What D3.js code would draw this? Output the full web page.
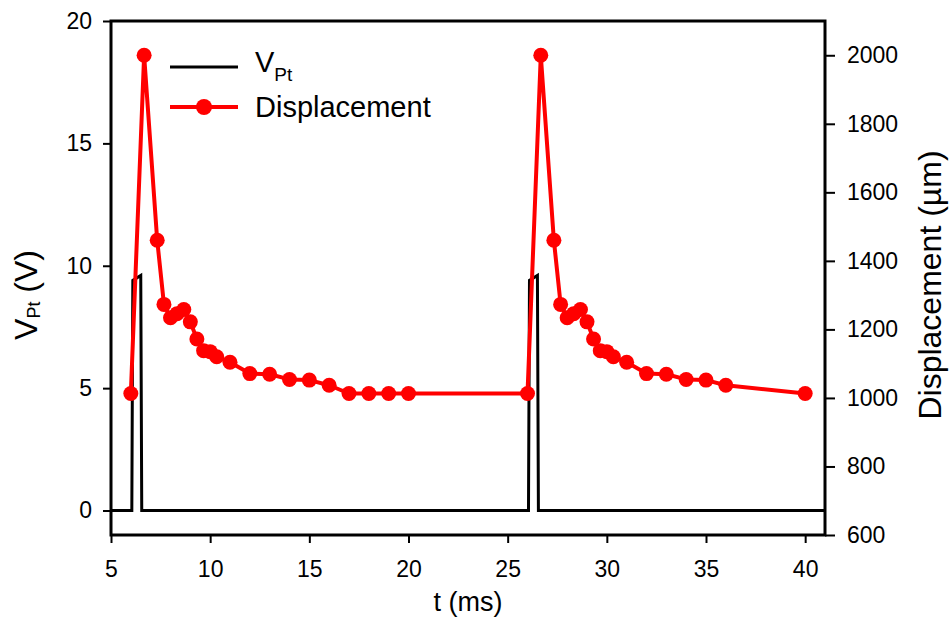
<!DOCTYPE html>
<html>
<head>
<meta charset="utf-8">
<script src="https://cdn.jsdelivr.net/npm/d3@7"></script>
<style>
  body { margin: 0; background: #fff; }
  text { font-family: "Liberation Sans", Arial, sans-serif; fill: #000; }
</style>
</head>
<body>
<div id="chart"></div>
<script>
// V_Pt pulse trace (t in ms, volts)
var vTime = [5, 6.05, 6.1, 6.5, 6.55, 26.05, 26.1, 26.5, 26.55, 41];
var vVolt = [0, 0, 9.4, 9.6, 0, 0, 9.4, 9.6, 0, 0];

// displacement samples (t in ms, um)
var dTime = [6.0, 6.67, 7.33, 7.67, 8.0, 8.33, 8.67, 9.0, 9.33, 9.67, 10.0, 10.33, 11, 12, 13, 14, 15, 16, 17, 18, 19, 20,
  26.0, 26.67, 27.33, 27.67, 28.0, 28.33, 28.67, 29.0, 29.33, 29.67, 30.0, 30.33, 31, 32, 33, 34, 35, 36, 40];
var dDisp = [1013, 2000, 1460, 1273, 1234, 1246, 1258, 1222, 1172, 1138, 1135, 1120, 1104, 1071, 1069, 1054, 1052, 1037, 1013, 1013, 1013, 1013,
  1013, 2000, 1460, 1273, 1234, 1246, 1258, 1222, 1172, 1138, 1135, 1120, 1104, 1071, 1069, 1054, 1052, 1037, 1013];

var xTicks = [5, 10, 15, 20, 25, 30, 35, 40];
var yLeftTicks = [0, 5, 10, 15, 20];
var yRightTicks = [600, 800, 1000, 1200, 1400, 1600, 1800, 2000];

var svgWidth = 951;
var svgHeight = 619;
var margin = { top: 21, right: 126, bottom: 84, left: 111 };
var width = svgWidth - margin.left - margin.right;
var height = svgHeight - margin.top - margin.bottom;

var svg = d3.select("#chart").append("svg")
  .attr("width", svgWidth)
  .attr("height", svgHeight);

var g = svg.append("g")
  .attr("transform", `translate(${margin.left}, ${margin.top})`);

var x = d3.scaleLinear().domain([5, 41]).range([0, width]);
var yLeft = d3.scaleLinear().domain([-1, 20]).range([height, 0]);
var yRight = d3.scaleLinear().domain([600, 2100]).range([height, 0]);

// axes
function styleAxis(sel) {
  sel.select(".domain").remove();
  sel.selectAll(".tick line").attr("stroke", "#000").attr("stroke-width", 2);
  sel.selectAll(".tick text").style("font-size", "23px").attr("fill", "#000");
}

g.append("g")
  .attr("transform", `translate(0, ${height})`)
  .call(d3.axisBottom(x).tickValues(xTicks).tickSize(8).tickPadding(18).tickSizeOuter(0))
  .call(styleAxis);

g.append("g")
  .call(d3.axisLeft(yLeft).tickValues(yLeftTicks).tickSize(8).tickPadding(11).tickSizeOuter(0))
  .call(styleAxis);

g.append("g")
  .attr("transform", `translate(${width}, 0)`)
  .call(d3.axisRight(yRight).tickValues(yRightTicks).tickFormat(d3.format("d"))
    .tickSize(10).tickPadding(12).tickSizeOuter(0))
  .call(styleAxis);

// V_Pt line
var vData = vTime.map(function (t, i) { return [t, vVolt[i]]; });
g.append("path")
  .datum(vData)
  .attr("fill", "none")
  .attr("stroke", "#000")
  .attr("stroke-width", 3)
  .attr("d", d3.line().x(d => x(d[0])).y(d => yLeft(d[1])));

// displacement line + markers
var dData = dTime.map(function (t, i) { return [t, dDisp[i]]; });
g.append("path")
  .datum(dData)
  .attr("fill", "none")
  .attr("stroke", "#ff0000")
  .attr("stroke-width", 4)
  .attr("stroke-linejoin", "round")
  .attr("d", d3.line().x(d => x(d[0])).y(d => yRight(d[1])));

g.selectAll("circle.pt")
  .data(dData)
  .enter()
  .append("circle")
  .attr("class", "pt")
  .attr("cx", d => x(d[0]))
  .attr("cy", d => yRight(d[1]))
  .attr("r", 7.5)
  .attr("fill", "#ff0000");

// frame
g.append("rect")
  .attr("width", width)
  .attr("height", height)
  .attr("fill", "none")
  .attr("stroke", "#000")
  .attr("stroke-width", 3);

// legend
svg.append("line")
  .attr("x1", 170).attr("x2", 238).attr("y1", 67).attr("y2", 67)
  .attr("stroke", "#000").attr("stroke-width", 3);
var leg1 = svg.append("text").attr("x", 255).attr("y", 72).style("font-size", "29px");
leg1.append("tspan").text("V");
leg1.append("tspan").attr("dy", 9).style("font-size", "19px").text("Pt");

svg.append("line")
  .attr("x1", 170).attr("x2", 238).attr("y1", 107).attr("y2", 107)
  .attr("stroke", "#ff0000").attr("stroke-width", 4);
svg.append("circle")
  .attr("cx", 204).attr("cy", 107).attr("r", 8)
  .attr("fill", "#ff0000");
svg.append("text").attr("x", 255).attr("y", 117).style("font-size", "29px").text("Displacement");

// axis titles
svg.append("text")
  .attr("x", margin.left + width / 2)
  .attr("y", 611)
  .attr("text-anchor", "middle")
  .style("font-size", "27px")
  .text("t (ms)");

var yTitle = svg.append("text")
  .attr("transform", "translate(37, 295) rotate(-90)")
  .attr("text-anchor", "middle")
  .style("font-size", "32px");
yTitle.append("tspan").text("V");
yTitle.append("tspan").attr("dy", 3).style("font-size", "18px").text("Pt");
yTitle.append("tspan").attr("dy", -3).text(" (V)");

svg.append("text")
  .attr("transform", "translate(941, 285) rotate(-90)")
  .attr("text-anchor", "middle")
  .style("font-size", "32px")
  .text("Displacement (\u00b5m)");
</script>
</body>
</html>
